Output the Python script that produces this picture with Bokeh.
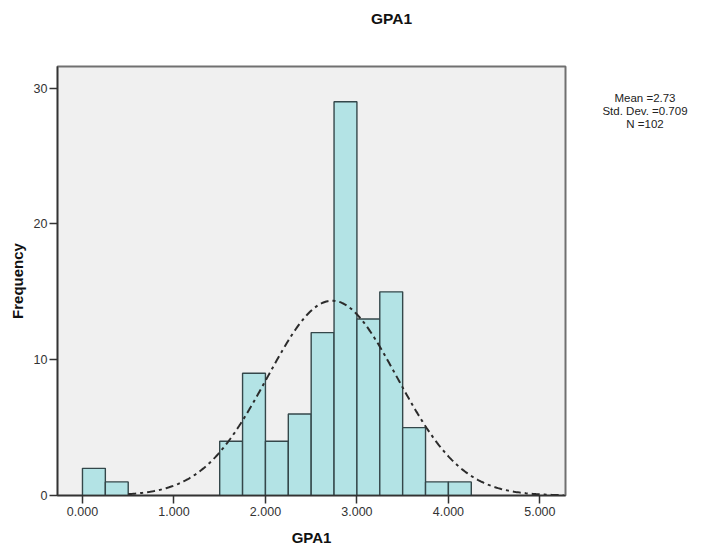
import numpy as np
from bokeh.plotting import figure
from bokeh.layouts import row, column
from bokeh.models import Range1d, FixedTicker, CustomJSTickFormatter, Div
from bokeh.embed import file_html
from bokeh.resources import INLINE

# Histogram of GPA1 (bin width 0.25)
bin_left = [0.00, 0.25, 0.50, 0.75, 1.00, 1.25, 1.50, 1.75, 2.00, 2.25,
            2.50, 2.75, 3.00, 3.25, 3.50, 3.75, 4.00]
counts = [2, 1, 0, 0, 0, 0, 4, 9, 4, 6, 12, 29, 13, 15, 5, 1, 1]
bin_width = 0.25

# Summary statistics shown beside the chart
mean_gpa = 2.73
sd_gpa = 0.709
n_gpa = 102

x_ticks = [0, 1, 2, 3, 4, 5]
y_ticks = [0, 10, 20, 30]

FONT = "Liberation Sans"

p = figure(width=590, height=529, output_backend="svg", toolbar_location=None,
           x_range=Range1d(-0.273, 5.28), y_range=Range1d(0, 31.6),
           min_border_left=57, min_border_right=25,
           min_border_top=40, min_border_bottom=60)

p.background_fill_color = "#f0f0f0"
p.border_fill_color = "white"
p.outline_line_color = "#707070"
p.outline_line_width = 2
p.xgrid.visible = False
p.ygrid.visible = False

# bars
lefts = [l for l, c in zip(bin_left, counts) if c > 0]
tops = [c for c in counts if c > 0]
rights = [l + bin_width for l in lefts]
p.quad(left=lefts, right=rights, bottom=0, top=tops,
       fill_color="#b3e3e5", line_color="#34474a", line_width=1.4)

# fitted normal curve scaled to counts
xs = np.linspace(0.5, 5.26, 300)
ys = n_gpa * bin_width / (sd_gpa * np.sqrt(2 * np.pi)) * np.exp(-0.5 * ((xs - mean_gpa) / sd_gpa) ** 2)
p.line(xs, ys, line_color="#2b2b2b", line_width=2, line_dash="8 4 3 4")

# axes
for ax in (p.xaxis[0], p.yaxis[0]):
    ax.axis_line_color = "#333333"
    ax.axis_line_width = 1.5
    ax.major_tick_line_color = "#333333"
    ax.major_tick_line_width = 1.5
    ax.major_tick_in = 0
    ax.major_tick_out = 8
    ax.minor_tick_line_color = None
    ax.major_label_text_font = FONT
    ax.major_label_text_font_size = "12.5px"
    ax.major_label_text_color = "#333333"
    ax.axis_label_text_font = FONT
    ax.axis_label_text_font_style = "bold"
    ax.axis_label_text_font_size = "15px"
    ax.axis_label_text_color = "#111111"

p.xaxis.ticker = FixedTicker(ticks=x_ticks)
p.xaxis.formatter = CustomJSTickFormatter(code="return tick.toFixed(3);")
p.xaxis.axis_label = "GPA1"
p.xaxis.major_label_standoff = 3
p.xaxis.axis_label_standoff = 10

p.yaxis.ticker = FixedTicker(ticks=y_ticks)
p.yaxis.axis_label = "Frequency"
p.yaxis.major_label_standoff = 2
p.yaxis.axis_label_standoff = 5

# chart title
title = Div(text="GPA1", width=710, height=16,
            styles={"font-family": FONT, "font-size": "15.5px",
                    "font-weight": "bold", "color": "#111111",
                    "padding-left": "366px", "padding-top": "5px",
                    "line-height": "18px"})

# statistics box to the right of the chart
stats_html = "<br>".join(["Mean =%.2f" % mean_gpa,
                          "Std. Dev. =%.3f" % sd_gpa,
                          "N =%d" % n_gpa])
stats = Div(text=stats_html, width=110, height=160,
            styles={"font-family": FONT, "font-size": "11.5px",
                    "line-height": "13px", "color": "#222222",
                    "text-align": "center", "padding-top": "61px",
                    "padding-right": "10px"})

layout = column(title, row(p, stats))
open("out.html", "w").write(file_html(layout, INLINE))
